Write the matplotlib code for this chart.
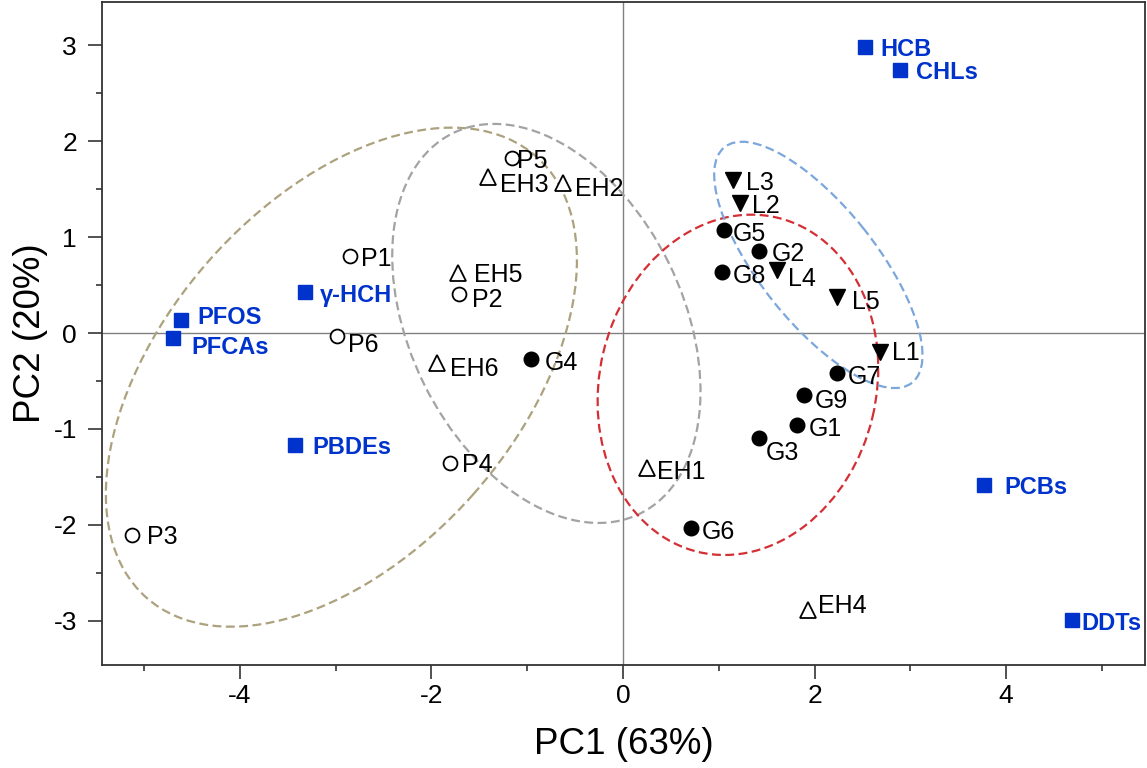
import matplotlib
matplotlib.use('Agg')
import matplotlib.pyplot as plt
from matplotlib.patches import Ellipse
from matplotlib import font_manager

plt.rcParams.update({
    'font.family': ['Liberation Sans', 'DejaVu Sans'],
    'axes.unicode_minus': False,
    'xtick.labelsize': 19,
    'ytick.labelsize': 19,
    'axes.labelsize': 26.5,
})

# campioni (scores)
p_names = ['P1', 'P2', 'P3', 'P4', 'P5', 'P6']
p_x = [-2.85, -1.71, -5.13, -1.81, -1.16, -2.99]
p_y = [0.80, 0.41, -2.10, -1.35, 1.82, -0.03]

eh_names = ['EH1', 'EH2', 'EH3', 'EH4', 'EH5', 'EH6']
eh_x = [0.25, -0.63, -1.41, 1.93, -1.72, -1.94]
eh_y = [-1.41, 1.56, 1.63, -2.89, 0.63, -0.31]

g_names = ['G1', 'G2', 'G3', 'G4', 'G5', 'G6', 'G7', 'G8', 'G9']
g_x = [1.82, 1.42, 1.42, -0.96, 1.06, 0.71, 2.23, 1.03, 1.89]
g_y = [-0.96, 0.86, -1.09, -0.27, 1.07, -2.03, -0.42, 0.64, -0.65]

l_names = ['L1', 'L2', 'L3', 'L4', 'L5']
l_x = [2.68, 1.22, 1.15, 1.61, 2.23]
l_y = [-0.20, 1.35, 1.59, 0.66, 0.38]

# loadings (contaminanti)
c_names = ['HCB', 'CHLs', 'γ-HCH', 'PFOS', 'PFCAs', 'PBDEs', 'PCBs', 'DDTs']
c_x = [2.53, 2.89, -3.32, -4.61, -4.70, -3.42, 3.77, 4.69]
c_y = [2.98, 2.74, 0.43, 0.14, -0.05, -1.17, -1.58, -2.99]

# ellissi dei gruppi: centro x, centro y, larghezza, altezza, angolo
ell_cx = [-2.94, -0.80, 1.20, 2.04]
ell_cy = [-0.46, 0.10, -0.54, 0.71]
ell_w = [6.14, 4.42, 3.58, 3.14]
ell_h = [3.68, 2.85, 2.89, 1.21]
ell_ang = [48.4, 116.3, 76.7, 128.6]
ell_col = ['#aca27e', '#a3a3a3', '#d32f35', '#7ba7dc']

# offset delle etichette (punti)
offs = {
    'P1': (8, 0), 'P2': (9, -3), 'P3': (11, 0), 'P4': (9, 0), 'P5': (4, 0), 'P6': (8, -5),
    'EH1': (7, -1), 'EH2': (9, -2), 'EH3': (9, -4), 'EH4': (7, 5), 'EH5': (11, 0), 'EH6': (9, -3),
    'G1': (8, -1), 'G2': (9, -1), 'G3': (5, -9), 'G4': (10, -1), 'G5': (6, -1), 'G6': (8, -1),
    'G7': (8, -1), 'G8': (8, -1), 'G9': (8, -2),
    'L1': (9, 1), 'L2': (9, 0), 'L3': (9, 0), 'L4': (8, -5), 'L5': (11, -2),
    'HCB': (11, 0), 'CHLs': (11.5, 0), 'γ-HCH': (11, -1), 'PFOS': (11.5, 3.5),
    'PFCAs': (13.5, -5), 'PBDEs': (12, 0), 'PCBs': (15, 0), 'DDTs': (7, -1),
}

blue = '#0033cc'

# font stretto se disponibile, altrimenti Liberation Sans un po' piu piccolo
installed = {f.name for f in font_manager.fontManager.ttflist}
narrow = None
for cand in ['Liberation Sans Narrow', 'Arial Narrow', 'Nimbus Sans Narrow']:
    if cand in installed:
        narrow = cand
        break
if narrow:
    lab_family = [narrow, 'DejaVu Sans']
    lab_size, blue_size = 19, 18
else:
    lab_family = ['Liberation Sans', 'DejaVu Sans']
    lab_size, blue_size = 18, 17

fig = plt.figure(figsize=(11.47, 7.68), dpi=100)
ax = fig.add_axes([0.0889, 0.1341, 0.9093, 0.8633])

ax.axhline(0, color='#808080', lw=1, zorder=1)
ax.axvline(0, color='#808080', lw=1, zorder=1)

for cx, cy, w, h, a, c in zip(ell_cx, ell_cy, ell_w, ell_h, ell_ang, ell_col):
    ax.add_patch(Ellipse((cx, cy), w, h, angle=a, fill=False, edgecolor=c,
                         lw=1.6, linestyle=(0, (4, 2)), zorder=2))

ax.plot(p_x, p_y, 'o', ms=10, mfc='white', mec='black', mew=1.3, ls='none', zorder=3)
ax.plot(eh_x, eh_y, '^', ms=11, mfc='white', mec='black', mew=1.3, ls='none', zorder=3)
ax.plot(g_x, g_y, 'o', ms=10.5, color='black', ls='none', zorder=3)
ax.plot(l_x, l_y, 'v', ms=11, color='black', ls='none', zorder=3)
ax.plot(c_x, c_y, 's', ms=10, color=blue, ls='none', zorder=3)

for names, xs, ys in [(p_names, p_x, p_y), (eh_names, eh_x, eh_y),
                      (g_names, g_x, g_y), (l_names, l_x, l_y)]:
    for n, x, y in zip(names, xs, ys):
        ax.annotate(n, (x, y), xytext=offs[n], textcoords='offset points',
                    ha='left', va='center_baseline', fontsize=lab_size,
                    family=lab_family, color='black', zorder=4)

for n, x, y in zip(c_names, c_x, c_y):
    ax.annotate(n, (x, y), xytext=offs[n], textcoords='offset points',
                ha='left', va='center_baseline', fontsize=blue_size,
                family=lab_family, fontweight='bold', color=blue, zorder=4)

ax.set_xlim(-5.44, 5.45)
ax.set_ylim(-3.46, 3.45)
ax.set_xticks([-4, -2, 0, 2, 4])
ax.set_xticks([-5, -3, -1, 1, 3, 5], minor=True)
ax.set_yticks([-3, -2, -1, 0, 1, 2, 3])
ax.set_yticks([-2.5, -1.5, -0.5, 0.5, 1.5, 2.5], minor=True)
ax.tick_params(which='major', direction='out', length=10, width=1.2, color='#333333')
ax.tick_params(which='minor', direction='out', length=4, width=1.2, color='#333333')
ax.tick_params(axis='x', which='major', pad=4)
ax.tick_params(axis='y', which='major', pad=8)
for s in ax.spines.values():
    s.set_color('#333333')
    s.set_linewidth(1.3)

ax.set_xlabel('PC1 (63%)', labelpad=13)
ax.set_ylabel('PC2 (20%)', labelpad=4)

fig.savefig('out.png', dpi=100)
